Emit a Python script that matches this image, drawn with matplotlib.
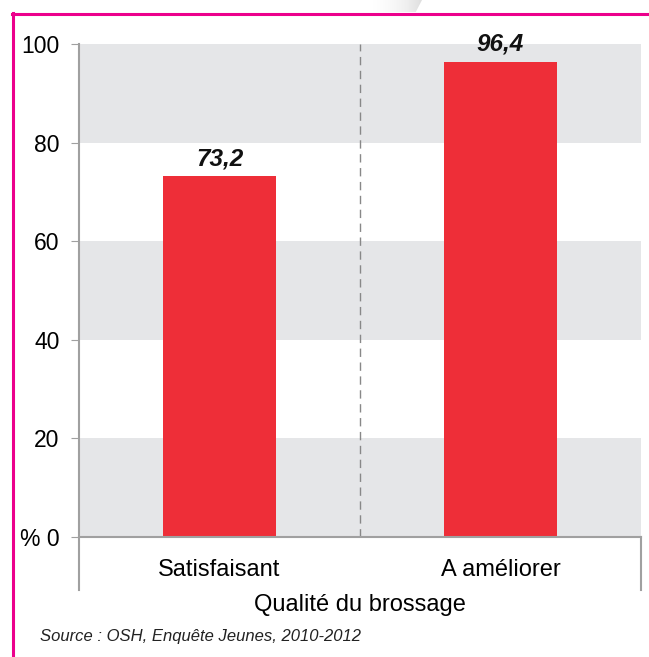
import matplotlib
matplotlib.use('Agg')
import matplotlib.pyplot as plt
import numpy as np
from matplotlib.patches import Polygon
from matplotlib.lines import Line2D

categories = ['Satisfaisant', 'A améliorer']
values = [73.2, 96.4]
value_labels = ['73,2', '96,4']
yticks = [0, 20, 40, 60, 80, 100]
ytick_labels = ['% 0', '20', '40', '60', '80', '100']
bands = [(0, 20), (40, 60), (80, 100)]
xlabel = 'Qualité du brossage'
source = 'Source : OSH, Enquête Jeunes, 2010-2012'

plt.rcParams['font.family'] = ['Liberation Sans', 'DejaVu Sans']

W, H = 649, 657
fig = plt.figure(figsize=(W / 100, H / 100), dpi=100)

# page decoration: magenta frame on left and top
fig.add_artist(Line2D([13 / W, 13 / W], [0, 1 - 13 / H], color='#ec008c', lw=2.2))
fig.add_artist(Line2D([12 / W, 1], [1 - 14 / H, 1 - 14 / H], color='#ec008c', lw=2.2))

# little grey gradient shape at the top
deco = fig.add_axes([370 / W, 1 - 12 / H, 52 / W, 12 / H])
deco.set_axis_off()
grad = np.linspace(0, 1, 100).reshape(1, -1) ** 1.5
im = deco.imshow(grad, cmap='Greys', vmin=0, vmax=4.5, aspect='auto', extent=[0, 1, 0, 1])
clip = Polygon([[0, 0], [0, 1], [1, 1], [0.88, 0]], closed=True, transform=deco.transData)
im.set_clip_path(clip)
deco.set_xlim(0, 1)
deco.set_ylim(0, 1)

ax = fig.add_axes([79 / W, 1 - 537 / H, 562 / W, 493 / H])
x = np.arange(len(categories))

for lo, hi in bands:
    ax.axhspan(lo, hi, color='#e5e6e8', lw=0, zorder=0)

ax.bar(x, values, width=0.405, color='#ee2e38', zorder=2)
for xi, v, lab in zip(x, values, value_labels):
    ax.text(xi, v + 1.2, lab, ha='center', va='bottom', fontsize=17.5,
            fontweight='bold', fontstyle='italic', color='#111111')

ax.axvline(0.5, color='#888888', lw=1, ls=(0, (6, 4)), zorder=1)

ax.set_xlim(-0.5, 1.5)
ax.set_ylim(0, 100)
ax.set_yticks(yticks)
ax.set_yticklabels(ytick_labels, fontsize=16.5)
ax.set_xticks(x)
ax.set_xticklabels(categories, fontsize=17)
ax.tick_params(axis='y', length=6, color='#a0a0a0', pad=8)
ax.tick_params(axis='x', length=0, pad=16)

for s in ['top', 'right']:
    ax.spines[s].set_visible(False)
ax.spines['left'].set_visible(False)
ax.spines['bottom'].set_color('#a0a0a0')
ax.spines['bottom'].set_linewidth(1.5)

gc = '#a0a0a0'
ax.add_line(Line2D([0, 0], [-0.1075, 1], transform=ax.transAxes, color=gc, lw=1.5, clip_on=False))
ax.add_line(Line2D([1, 1], [-0.1075, 0], transform=ax.transAxes, color=gc, lw=1.5, clip_on=False))

fig.text(360 / W, 1 - 605 / H, xlabel, ha='center', va='center', fontsize=17)
fig.text(40 / W, 1 - 637 / H, source, ha='left', va='center', fontsize=12,
         fontstyle='italic', color='#222222')

fig.savefig('out.png', dpi=100)
